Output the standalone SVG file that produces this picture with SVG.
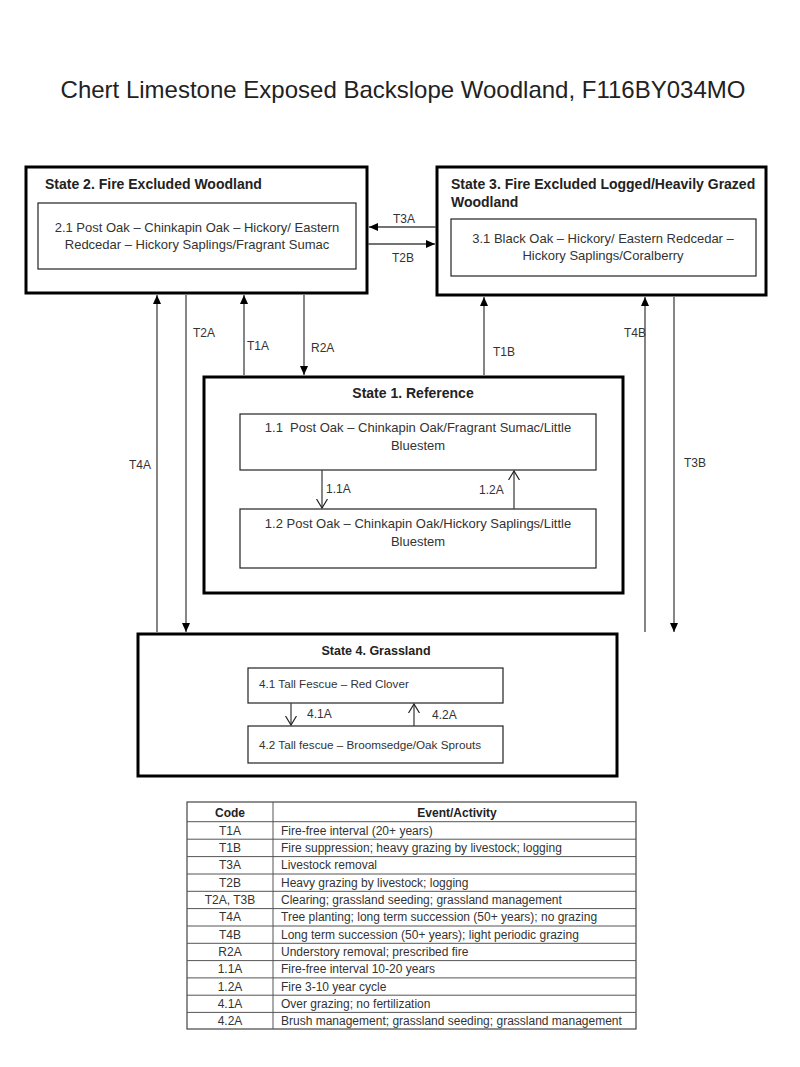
<svg xmlns="http://www.w3.org/2000/svg" width="800" height="1067" viewBox="0 0 800 1067">
<style>
text{font-family:"Liberation Sans",Arial,sans-serif;fill:#222}
.title{font-size:24px}
.st{font-size:14px;font-weight:bold}
.st4{font-size:12.5px;font-weight:bold}
.in{font-size:13px;fill:#333}
.in4{font-size:11.7px;fill:#333}
.lbl{font-size:12px;fill:#333}
.outer{fill:#fff;stroke:#000;stroke-width:3}
.inner{fill:#fff;stroke:#222;stroke-width:1.2}
.con{stroke:#444;stroke-width:1.3;fill:none}
.tb{font-size:12px;fill:#333}
.th{font-size:12px;font-weight:bold}
.tl{stroke:#555;stroke-width:1}
</style>
<defs>
<marker id="fa" markerUnits="userSpaceOnUse" markerWidth="9" markerHeight="8" refX="9" refY="4" orient="auto"><path d="M0,0 L9,4 L0,8 z" fill="#000"/></marker>
<marker id="oa" markerUnits="userSpaceOnUse" markerWidth="10" markerHeight="12" refX="9" refY="6" orient="auto"><path d="M0,0.5 L9,6 L0,11.5" fill="none" stroke="#222" stroke-width="1.2"/></marker>
</defs>
<rect width="800" height="1067" fill="#fff"/>
<text class="title" x="403" y="98" text-anchor="middle">Chert Limestone Exposed Backslope Woodland, F116BY034MO</text>

<g id="state2">
<rect class="outer" x="26" y="167" width="341" height="126"/>
<text class="st" x="45" y="189">State 2. Fire Excluded  Woodland</text>
<rect class="inner" x="38" y="203" width="318" height="66"/>
<text class="in" x="197" y="232" text-anchor="middle">2.1 Post Oak – Chinkapin Oak – Hickory/ Eastern</text>
<text class="in" x="197" y="249" text-anchor="middle">Redcedar – Hickory Saplings/Fragrant Sumac</text>
</g>

<g id="state3">
<rect class="outer" x="437" y="167" width="329" height="128"/>
<text class="st" x="451" y="189">State 3. Fire Excluded Logged/Heavily Grazed</text>
<text class="st" x="451" y="207">Woodland</text>
<rect class="inner" x="451" y="219" width="305" height="57"/>
<text class="in" x="603" y="243" text-anchor="middle">3.1 Black Oak – Hickory/ Eastern Redcedar –</text>
<text class="in" x="603" y="260" text-anchor="middle">Hickory Saplings/Coralberry</text>
</g>

<g id="state1">
<rect class="outer" x="204" y="377" width="419" height="216"/>
<text class="st" x="413" y="398" text-anchor="middle">State 1. Reference</text>
<rect class="inner" x="240" y="414" width="356" height="56"/>
<text class="in" x="418" y="432" text-anchor="middle" xml:space="preserve">1.1  Post Oak – Chinkapin Oak/Fragrant Sumac/Little</text>
<text class="in" x="418" y="450" text-anchor="middle">Bluestem</text>
<rect class="inner" x="240" y="509" width="356" height="59"/>
<text class="in" x="418" y="528" text-anchor="middle">1.2 Post Oak – Chinkapin Oak/Hickory Saplings/Little</text>
<text class="in" x="418" y="546" text-anchor="middle">Bluestem</text>
</g>

<g id="state4">
<rect class="outer" x="138" y="634" width="479" height="142"/>
<text class="st4" x="376" y="655" text-anchor="middle">State 4. Grassland</text>
<rect class="inner" x="248" y="668" width="255" height="35"/>
<text class="in4" x="259" y="688">4.1 Tall Fescue – Red Clover</text>
<rect class="inner" x="248" y="726" width="255" height="37"/>
<text class="in4" x="259" y="749">4.2 Tall fescue – Broomsedge/Oak Sprouts</text>
</g>

<g id="connectors">
<line class="con" x1="436" y1="227" x2="369" y2="227" marker-end="url(#fa)"/>
<line class="con" x1="368" y1="244" x2="435" y2="244" marker-end="url(#fa)"/>
<line class="con" x1="157" y1="632" x2="157" y2="295" marker-end="url(#fa)"/>
<line class="con" x1="186" y1="295" x2="186" y2="632" marker-end="url(#fa)"/>
<line class="con" x1="244" y1="375" x2="244" y2="295" marker-end="url(#fa)"/>
<line class="con" x1="304" y1="295" x2="304" y2="375" marker-end="url(#fa)"/>
<line class="con" x1="484" y1="375" x2="484" y2="297" marker-end="url(#fa)"/>
<line class="con" x1="645" y1="632" x2="645" y2="297" marker-end="url(#fa)"/>
<line class="con" x1="674" y1="297" x2="674" y2="632" marker-end="url(#fa)"/>
<line class="con" x1="322" y1="470" x2="322" y2="508" marker-end="url(#oa)"/>
<line class="con" x1="514" y1="509" x2="514" y2="471" marker-end="url(#oa)"/>
<line class="con" x1="291" y1="703" x2="291" y2="725" marker-end="url(#oa)"/>
<line class="con" x1="414" y1="726" x2="414" y2="704" marker-end="url(#oa)"/>
<text class="lbl" x="393" y="223">T3A</text>
<text class="lbl" x="392" y="262">T2B</text>
<text class="lbl" x="193" y="337">T2A</text>
<text class="lbl" x="247" y="350">T1A</text>
<text class="lbl" x="311" y="352">R2A</text>
<text class="lbl" x="493" y="356">T1B</text>
<text class="lbl" x="624" y="337">T4B</text>
<text class="lbl" x="129" y="469">T4A</text>
<text class="lbl" x="684" y="467">T3B</text>
<text class="lbl" x="326" y="493">1.1A</text>
<text class="lbl" x="479" y="494">1.2A</text>
<text class="lbl" x="307" y="718">4.1A</text>
<text class="lbl" x="432" y="719">4.2A</text>
</g>

<g id="legend">
<rect x="187" y="802" width="449" height="227" fill="#fff" stroke="#444" stroke-width="1.2"/>
<line class="tl" x1="273" y1="802" x2="273" y2="1029"/>
<line class="tl" x1="187" y1="821.7" x2="636" y2="821.7"/>
<line class="tl" x1="187" y1="839.2" x2="636" y2="839.2"/>
<line class="tl" x1="187" y1="856.6" x2="636" y2="856.6"/>
<line class="tl" x1="187" y1="874" x2="636" y2="874"/>
<line class="tl" x1="187" y1="891.3" x2="636" y2="891.3"/>
<line class="tl" x1="187" y1="908.6" x2="636" y2="908.6"/>
<line class="tl" x1="187" y1="926" x2="636" y2="926"/>
<line class="tl" x1="187" y1="943.3" x2="636" y2="943.3"/>
<line class="tl" x1="187" y1="960.6" x2="636" y2="960.6"/>
<line class="tl" x1="187" y1="977.9" x2="636" y2="977.9"/>
<line class="tl" x1="187" y1="995.2" x2="636" y2="995.2"/>
<line class="tl" x1="187" y1="1012.4" x2="636" y2="1012.4"/>
<text class="th" x="230" y="816.5" text-anchor="middle">Code</text>
<text class="th" x="457" y="816.5" text-anchor="middle">Event/Activity</text>
<text class="tb" x="230" y="834.8" text-anchor="middle">T1A</text>
<text class="tb" x="230" y="852.1" text-anchor="middle">T1B</text>
<text class="tb" x="230" y="869.4" text-anchor="middle">T3A</text>
<text class="tb" x="230" y="886.7" text-anchor="middle">T2B</text>
<text class="tb" x="230" y="904" text-anchor="middle">T2A, T3B</text>
<text class="tb" x="230" y="921.3" text-anchor="middle">T4A</text>
<text class="tb" x="230" y="938.6" text-anchor="middle">T4B</text>
<text class="tb" x="230" y="955.9" text-anchor="middle">R2A</text>
<text class="tb" x="230" y="973.2" text-anchor="middle">1.1A</text>
<text class="tb" x="230" y="990.5" text-anchor="middle">1.2A</text>
<text class="tb" x="230" y="1007.8" text-anchor="middle">4.1A</text>
<text class="tb" x="230" y="1025.1" text-anchor="middle">4.2A</text>
<text class="tb" x="281" y="834.8">Fire-free interval (20+ years)</text>
<text class="tb" x="281" y="852.1">Fire suppression; heavy grazing by livestock; logging</text>
<text class="tb" x="281" y="869.4">Livestock removal</text>
<text class="tb" x="281" y="886.7">Heavy grazing by livestock; logging</text>
<text class="tb" x="281" y="904">Clearing; grassland seeding; grassland management</text>
<text class="tb" x="281" y="921.3">Tree planting; long term succession (50+ years); no grazing</text>
<text class="tb" x="281" y="938.6">Long term succession (50+ years); light periodic grazing</text>
<text class="tb" x="281" y="955.9">Understory removal; prescribed fire</text>
<text class="tb" x="281" y="973.2">Fire-free interval 10-20 years</text>
<text class="tb" x="281" y="990.5">Fire 3-10 year cycle</text>
<text class="tb" x="281" y="1007.8">Over grazing; no fertilization</text>
<text class="tb" x="281" y="1025.1">Brush management; grassland seeding; grassland management</text>
</g>
</svg>
